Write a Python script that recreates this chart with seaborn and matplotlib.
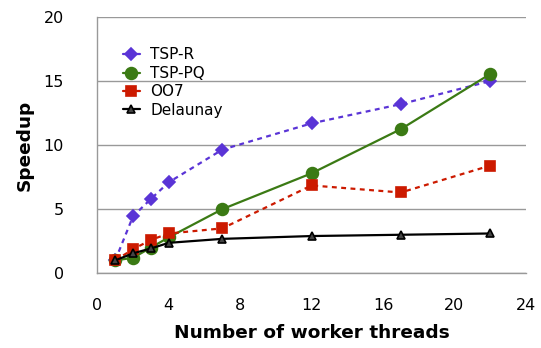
import matplotlib
matplotlib.use("Agg")
import matplotlib.pyplot as plt
import pandas as pd
import seaborn as sns

# --- Data ---
threads = [1, 2, 3, 4, 7, 12, 17, 22]
tsp_r = [1.0, 4.45, 5.8, 7.1, 9.65, 11.7, 13.2, 15.0]
tsp_pq = [1.0, 1.2, 2.0, 2.8, 5.0, 7.8, 11.25, 15.55]
oo7 = [1.0, 1.87, 2.6, 3.1, 3.5, 6.85, 6.3, 8.4]
delaunay = [1.0, 1.55, 1.93, 2.37, 2.68, 2.9, 3.0, 3.1]

series_names = ["TSP-R", "TSP-PQ", "OO7", "Delaunay"]
series_values = [tsp_r, tsp_pq, oo7, delaunay]

x_ticks = [0, 4, 8, 12, 16, 20, 24]
y_ticks = [0, 5, 10, 15, 20]

palette = {"TSP-R": "#5a34d6", "TSP-PQ": "#3b7a14",
           "OO7": "#cc1a00", "Delaunay": "#000000"}
markers = {"TSP-R": "D", "TSP-PQ": "o", "OO7": "s", "Delaunay": "^"}
msizes = {"TSP-R": 6, "TSP-PQ": 8.5, "OO7": 7.5, "Delaunay": 6}
dashes = {"TSP-R": (2.2, 2.0), "TSP-PQ": "", "OO7": (2.2, 2.0), "Delaunay": ""}


def build_frame():
    rows = []
    for name, vals in zip(series_names, series_values):
        for t, v in zip(threads, vals):
            rows.append({"threads": t, "speedup": v, "series": name})
    return pd.DataFrame(rows)


def main():
    df = build_frame()
    sns.set_style("white")
    plt.rcParams["font.family"] = ["DejaVu Sans"]
    plt.rcParams["text.color"] = "black"
    plt.rcParams["axes.labelcolor"] = "black"

    fig = plt.figure(figsize=(5.41, 3.48), dpi=100)
    ax = fig.add_axes([0.18, 0.215, 0.792, 0.736])

    for name in series_names:
        sub = df[df["series"] == name]
        sns.lineplot(data=sub, x="threads", y="speedup", ax=ax,
                     color=palette[name], marker=markers[name],
                     markersize=msizes[name], linewidth=1.6,
                     markeredgecolor=palette[name],
                     markerfacecolor=palette[name] if name != "Delaunay" else "#444444",
                     markeredgewidth=1.2, label=name, zorder=3)
        if dashes[name]:
            ax.lines[-1].set_dashes(dashes[name])

    ax.set_xlim(0, 24)
    ax.set_ylim(0, 20)
    ax.set_xticks(x_ticks)
    ax.set_yticks(y_ticks)
    ax.tick_params(axis="both", labelsize=11.5, colors="#999999",
                   labelcolor="black", length=4, width=1, direction="inout")
    ax.tick_params(axis="x", pad=16)
    ax.tick_params(axis="y", pad=22)
    ax.yaxis.grid(True, color="#999999", linewidth=1)
    ax.set_axisbelow(True)
    for side in ["top", "right"]:
        ax.spines[side].set_visible(False)
    for side in ["left", "bottom"]:
        ax.spines[side].set_color("#999999")
        ax.spines[side].set_linewidth(1)

    ax.set_xlabel("Number of worker threads", fontsize=13.3,
                  fontweight="bold", labelpad=8)
    ax.set_ylabel("Speedup", fontsize=13.3, fontweight="bold", labelpad=7)

    leg = ax.legend(loc="upper left", bbox_to_anchor=(0.045, 0.905),
                    frameon=False, fontsize=11, handlelength=1.1,
                    handletextpad=0.7, labelspacing=0.22,
                    borderaxespad=0)
    for h in leg.legend_handles:
        h.set_linestyle("-")

    fig.savefig("out.png", dpi=100)
    plt.close(fig)


if __name__ == "__main__":
    main()
